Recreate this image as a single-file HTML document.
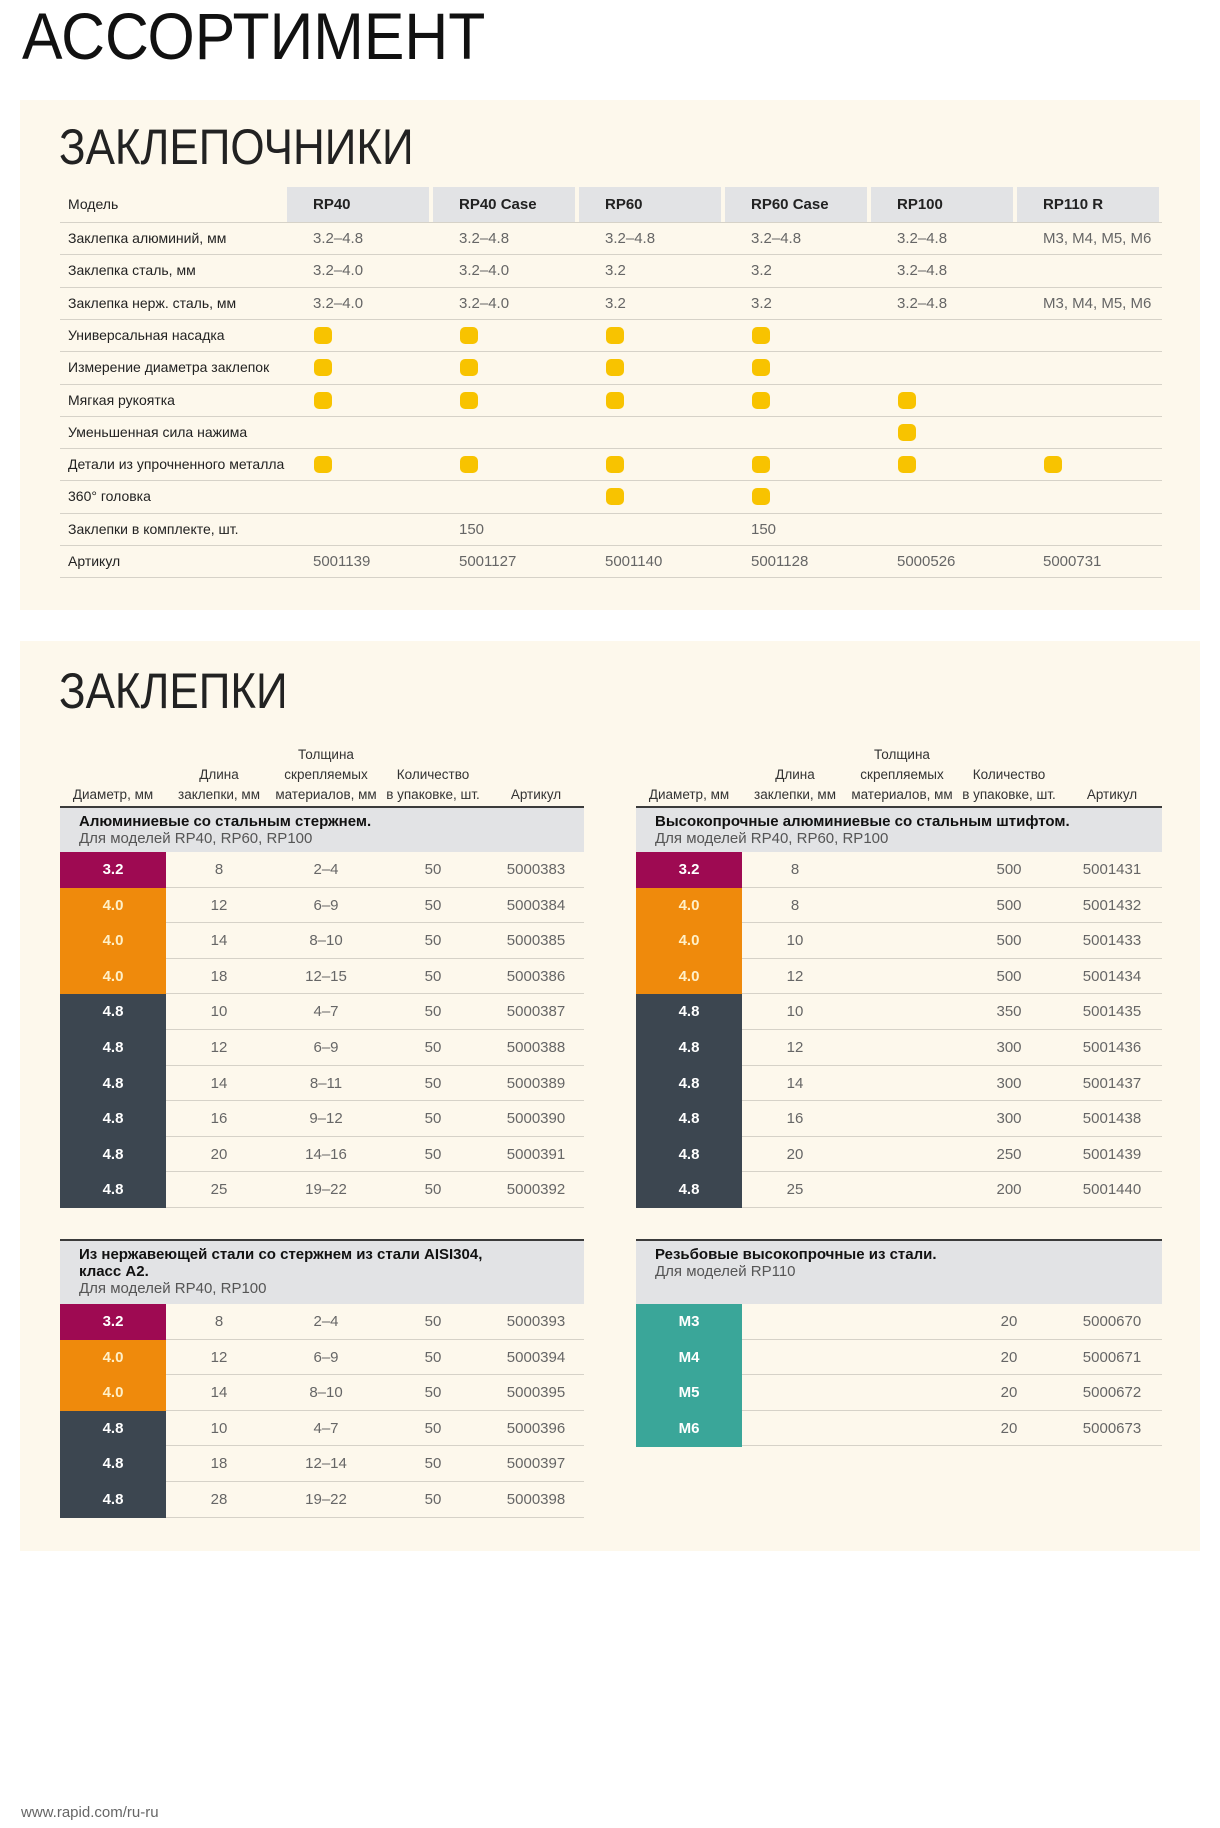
<!DOCTYPE html>
<html><head><meta charset="utf-8">
<style>
html,body{margin:0;padding:0;background:#fff;}
body{width:1220px;height:1828px;position:relative;overflow:hidden;font-family:"Liberation Sans","DejaVu Sans",sans-serif;color:#222;}
.abs{position:absolute;white-space:nowrap;}
.panel{position:absolute;background:#fdf8ec;}
.h1{font-size:66px;color:#111;transform-origin:0 0;transform:scaleX(0.92);}
.h2{font-size:50px;font-weight:300;color:#222;transform-origin:0 0;transform:scaleX(0.88);}
.lbl{font-family:"Liberation Sans Narrow","Liberation Sans",sans-serif;font-size:14px;color:#222;}
.val{font-size:15px;color:#666;}
.hdr{font-size:15px;font-weight:bold;color:#222;}
.line{position:absolute;height:1px;background:#d6d2c8;}
.dot{position:absolute;width:18px;height:17px;border-radius:5px;background:#f8c300;}
.ch{font-family:"Liberation Sans Narrow","Liberation Sans",sans-serif;font-size:13.5px;color:#333;text-align:center;line-height:20px;}
.cell{font-size:15px;color:#666;text-align:center;}
.dia{position:absolute;font-size:15px;font-weight:bold;text-align:center;}
</style></head>
<body>
<div class="abs h1" style="left:22px;top:-2px;">АССОРТИМЕНТ</div>

<div class="panel" style="left:20px;top:100px;width:1180px;height:510px;"></div>
<div class="abs h2" style="left:59px;top:118px;">ЗАКЛЕПОЧНИКИ</div>

<div class="panel" style="left:20px;top:641px;width:1180px;height:910px;"></div>
<div class="abs h2" style="left:59px;top:662px;">ЗАКЛЕПКИ</div>

<div class="abs" style="left:21px;top:1804px;font-size:15px;color:#666;">www.rapid.com/ru-ru</div>

<script>
// ---- Riveters table data ----
const models = ["RP40","RP40 Case","RP60","RP60 Case","RP100","RP110 R"];
const rowLabels = ["Заклепка алюминий, мм","Заклепка сталь, мм","Заклепка нерж. сталь, мм","Универсальная насадка","Измерение диаметра заклепок","Мягкая рукоятка","Уменьшенная сила нажима","Детали из упрочненного металла","360° головка","Заклепки в комплекте, шт.","Артикул"];
const alumRange = ["3.2–4.8","3.2–4.8","3.2–4.8","3.2–4.8","3.2–4.8","M3, M4, M5, M6"];
const steelRange = ["3.2–4.0","3.2–4.0","3.2","3.2","3.2–4.8",""];
const inoxRange = ["3.2–4.0","3.2–4.0","3.2","3.2","3.2–4.8","M3, M4, M5, M6"];
const universalNozzle = [1,1,1,1,0,0];
const diameterGauge = [1,1,1,1,0,0];
const softGrip = [1,1,1,1,1,0];
const reducedForce = [0,0,0,0,1,0];
const hardenedParts = [1,1,1,1,1,1];
const head360 = [0,0,1,1,0,0];
const rivetsIncluded = ["","150","","150","",""];
const articles = ["5001139","5001127","5001140","5001128","5000526","5000731"];

const body = document.body;
function mk(cls, x, y, txt){
  const e = document.createElement('div');
  e.className = cls;
  e.style.left = x+'px'; e.style.top = y+'px';
  if (txt !== undefined) e.textContent = txt;
  body.appendChild(e);
  return e;
}

const tL = 60, tR = 1162, colX0 = 287, colW = 146, hdrTop = 187, hdrBot = 222, rowH = 32.3;
let e = mk('abs lbl', 68, hdrTop+9, 'Модель');


models.forEach((m, i) => {
  const x = colX0 + i*colW;
  const b = mk('abs', x, hdrTop);
  b.style.width = (colW-4)+'px'; b.style.height = (hdrBot-hdrTop)+'px'; b.style.background = '#e2e3e5';
  
  
  const t = mk('abs hdr', x+26, hdrTop+9, m);
  
  
});
let ln = mk('line', tL, hdrBot); ln.style.width = (tR-tL)+'px';



const textRows = {0: alumRange, 1: steelRange, 2: inoxRange, 9: rivetsIncluded, 10: articles};
const dotRows = {3: universalNozzle, 4: diameterGauge, 5: softGrip, 6: reducedForce, 7: hardenedParts, 8: head360};
rowLabels.forEach((lab, r) => {
  const y = hdrBot + r*rowH;
  const l = mk('abs lbl', 68, y+8, lab);
  
  
  const rl = mk('line', tL, y+rowH); rl.style.width = (tR-tL)+'px';
  
  
  models.forEach((m, i) => {
    const x = colX0 + i*colW;
    if (textRows[r]) {
      const v = textRows[r][i];
      if (v) {
        const c = mk('abs val', x+26, y+8, v);
        
        
      }
    } else if (dotRows[r] && dotRows[r][i]) {
      const d = mk('dot', x+27, y+8);
      
      
    }
  });
});

// ---- Rivets tables data ----
const colHeaders = [["Диаметр, мм"],["Длина","заклепки, мм"],["Толщина","скрепляемых","материалов, мм"],["Количество","в упаковке, шт."],["Артикул"]];
const alDia = ["3.2","4.0","4.0","4.0","4.8","4.8","4.8","4.8","4.8","4.8"];
const alLen = ["8","12","14","18","10","12","14","16","20","25"];
const alThick = ["2–4","6–9","8–10","12–15","4–7","6–9","8–11","9–12","14–16","19–22"];
const alQty = ["50","50","50","50","50","50","50","50","50","50"];
const alArt = ["5000383","5000384","5000385","5000386","5000387","5000388","5000389","5000390","5000391","5000392"];
const hsDia = ["3.2","4.0","4.0","4.0","4.8","4.8","4.8","4.8","4.8","4.8"];
const hsLen = ["8","8","10","12","10","12","14","16","20","25"];
const hsThick = ["","","","","","","","","",""];
const hsQty = ["500","500","500","500","350","300","300","300","250","200"];
const hsArt = ["5001431","5001432","5001433","5001434","5001435","5001436","5001437","5001438","5001439","5001440"];
const ssDia = ["3.2","4.0","4.0","4.8","4.8","4.8"];
const ssLen = ["8","12","14","10","18","28"];
const ssThick = ["2–4","6–9","8–10","4–7","12–14","19–22"];
const ssQty = ["50","50","50","50","50","50"];
const ssArt = ["5000393","5000394","5000395","5000396","5000397","5000398"];
const thDia = ["M3","M4","M5","M6"];
const thLen = ["","","",""];
const thThick = ["","","",""];
const thQty = ["20","20","20","20"];
const thArt = ["5000670","5000671","5000672","5000673"];

const diaColors = {"3.2":["#9e0a52","#fff"],"4.0":["#ef8a0c","#fff0c8"],"4.8":["#3c4650","#fff"]};
const tealColor = ["#3aa699","#fff"];
const rH = 35.6;

function table(x0, w, groupTop, groupBot, titleLines, sub, dia, len, thick, qty, art){
  const cx = [x0+53, x0+159, x0+266, x0+373, x0+476];
  const top = mk('abs', x0, groupTop-2); top.style.width = w+'px'; top.style.height = '2px'; top.style.background = '#3b3b3b';
  
  
  const g = mk('abs', x0, groupTop); g.style.width = w+'px'; g.style.height = (groupBot-groupTop)+'px'; g.style.background = '#e2e3e5';
  
  
  const tt = mk('abs', x0+19, groupTop+5); tt.style.fontSize = '15px'; tt.style.fontWeight = 'bold'; tt.style.lineHeight = '17px'; tt.style.color = '#111';
  tt.innerHTML = titleLines.join('<br>');
  
  
  const st = mk('abs', x0+19, groupTop+5+17*titleLines.length, sub); st.style.fontSize = '15px'; st.style.color = '#555'; st.style.lineHeight = '17px';
  
  
  dia.forEach((d, i) => {
    const y = groupBot + i*rH;
    const col = diaColors[d] || tealColor;
    const c = mk('dia', x0, y, d);
    c.style.width = '106px'; c.style.height = (rH+0.5)+'px'; c.style.lineHeight = rH+'px';
    c.style.background = col[0]; c.style.color = col[1];
    
    
    const rl = mk('line', x0+106, y+rH-1); rl.style.width = (w-106)+'px';
    
    
    [len[i], thick[i], qty[i], art[i]].forEach((v, k) => {
      if (!v) return;
      const t = mk('abs cell', cx[k+1]-50, y+9, v); t.style.width = '100px';
      
      
    });
  });
  return cx;
}
function headers(x0){
  const cx = [x0+53, x0+159, x0+266, x0+373, x0+476];
  colHeaders.forEach((h, k) => {
    const t = mk('abs ch', cx[k]-70, 805 - h.length*20); t.style.width = '140px';
    t.innerHTML = h.join('<br>');
    
    
  });
}
headers(60); headers(636);
table(60, 524, 808, 852, ["Алюминиевые со стальным стержнем."], "Для моделей RP40, RP60, RP100", alDia, alLen, alThick, alQty, alArt);
table(636, 526, 808, 852, ["Высокопрочные алюминиевые со стальным штифтом."], "Для моделей RP40, RP60, RP100", hsDia, hsLen, hsThick, hsQty, hsArt);
table(60, 524, 1241, 1304, ["Из нержавеющей стали со стержнем из стали AISI304,","класс A2."], "Для моделей RP40, RP100", ssDia, ssLen, ssThick, ssQty, ssArt);
table(636, 526, 1241, 1304, ["Резьбовые высокопрочные из стали."], "Для моделей RP110", thDia, thLen, thThick, thQty, thArt);
</script>
</body></html>
